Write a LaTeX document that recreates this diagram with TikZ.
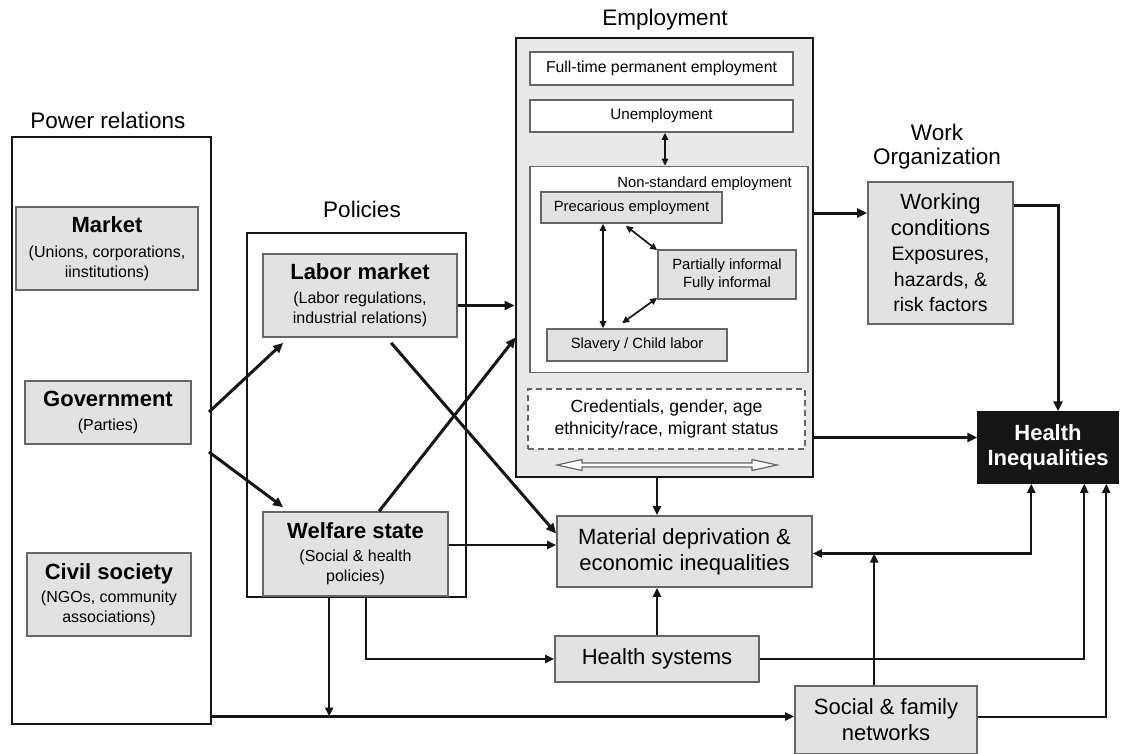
\documentclass[tikz,border=0pt]{standalone}
\usepackage{fontspec}
\setmainfont{Liberation Sans}
\usetikzlibrary{arrows.meta,calc}

\definecolor{boxfill}{HTML}{E2E2E2}
\definecolor{empfill}{HTML}{E8E8E8}
\definecolor{boxline}{HTML}{666666}
\definecolor{ink}{HTML}{151515}

\newcommand\ttlfont{\fontsize{22.5}{26}\selectfont}
\newcommand\hdrfont{\fontsize{22}{26}\selectfont\bfseries}
\newcommand\subfont{\fontsize{16}{20}\selectfont}
\newcommand\bigfont{\fontsize{22}{26}\selectfont}
\newcommand\midfont{\fontsize{17.6}{22.5}\selectfont}
\newcommand\smlfont{\fontsize{14.8}{18}\selectfont}

\begin{document}
\begin{tikzpicture}[x=1pt,y=-1pt,
  outerframe/.style={draw=ink, line width=2.8pt, inner sep=0pt},
  grybox/.style={draw=boxline, fill=boxfill, line width=1.7pt, inner sep=0pt, align=center},
  whtbox/.style={grybox, fill=white},
  ttl/.style={anchor=base, font=\ttlfont, inner sep=0pt},
  thk/.style={line width=3pt, draw=ink, -{Triangle[length=10pt,width=9pt]}},
  thn/.style={line width=2.1pt, draw=ink, -{Triangle[length=9pt,width=8pt]}},
  thnboth/.style={line width=2.1pt, draw=ink, {Triangle[length=9pt,width=8pt]}-{Triangle[length=9pt,width=8pt]}},
  dbl/.style={line width=1.7pt, draw=ink, {Triangle[length=7pt,width=6.5pt]}-{Triangle[length=7pt,width=6.5pt]}},
]
\useasboundingbox (0,0) rectangle (1123,753);

% ---------- column titles ----------
\node[ttl] (t-pow) at (108,128) {Power relations};
\node[ttl] (t-pol) at (362,217) {Policies};
\node[ttl] (t-emp) at (665,25) {Employment};
\node[ttl] (t-work) at (937,140) {Work};
\node[ttl] (t-org) at (937,164) {Organization};

% ---------- power relations ----------
\node[outerframe, minimum width=199pt, minimum height=587pt] (pr) at (111.5,430.5) {};
\node[grybox, minimum width=182pt, minimum height=83pt, font=\subfont] (mkt) at (107,248.5)
  {{\hdrfont Market}\\[5pt](Unions, corporations,\\iinstitutions)};
\node[grybox, minimum width=166pt, minimum height=63pt, font=\subfont] (gov) at (108,412.5)
  {{\hdrfont Government}\\[4pt](Parties)};
\node[grybox, minimum width=164pt, minimum height=83pt, font=\subfont] (civ) at (109,594.5)
  {{\hdrfont Civil society}\\[3pt](NGOs, community\\associations)};

% ---------- policies ----------
\node[outerframe, minimum width=219pt, minimum height=364pt] (pol) at (356.5,415) {};
\node[grybox, minimum width=194pt, minimum height=83pt, font=\subfont] (lab) at (360,295.5)
  {{\hdrfont Labor market}\\[4pt](Labor regulations,\\industrial relations)};
\node[grybox, minimum width=185pt, minimum height=84pt, font=\subfont] (wel) at (355.5,554)
  {{\hdrfont Welfare state}\\[3pt](Social \& health\\policies)};

% ---------- employment ----------
\node[outerframe, fill=empfill, minimum width=297pt, minimum height=439pt] (emp) at (664.5,257.5) {};
\node[whtbox, minimum width=263pt, minimum height=33pt, font=\fontsize{15.8}{19}\selectfont] (ft) at (661.5,68.5)
  {Full-time permanent employment};
\node[whtbox, minimum width=263pt, minimum height=32pt, font=\fontsize{15.2}{19}\selectfont] (un) at (661.5,116)
  {Unemployment};
\node[whtbox, minimum width=278pt, minimum height=206pt] (ns) at (669,269.5) {};
\node[anchor=base east, font=\smlfont, inner sep=0pt] (ns-lbl) at (792,187) {Non-standard employment};
\node[grybox, minimum width=181pt, minimum height=31pt, font=\smlfont] (pre) at (631.5,207.5)
  {Precarious employment};
\node[grybox, minimum width=138pt, minimum height=49pt, font=\smlfont] (inf) at (727,274.5)
  {Partially informal\\Fully informal};
\node[grybox, minimum width=180pt, minimum height=32pt, font=\smlfont] (sla) at (637,345)
  {Slavery / Child labor};
\node[whtbox, dash pattern=on 6pt off 4pt, minimum width=277pt, minimum height=60pt, font=\midfont] (cred) at (666.5,419)
  {Credentials, gender, age\\ethnicity/race, migrant status};
% hollow two-way arrow under the credentials box
\filldraw[fill=white, draw=boxline, line width=1.2pt]
  (557,465) -- (582,459.5) -- (582,463) -- (752,463) -- (752,459.5) -- (777,465)
  -- (752,470.5) -- (752,467) -- (582,467) -- (582,470.5) -- cycle;

% ---------- right-hand side ----------
\node[grybox, minimum width=145pt, minimum height=142pt, font=\fontsize{19.5}{25.5}\selectfont] (wc) at (940.5,253)
  {{\bigfont Working}\\{\bigfont conditions}\\Exposures,\\hazards, \&\\risk factors};
\node[draw=ink, fill=ink, line width=1.5pt, inner sep=0pt, align=center, text=white,
  minimum width=140pt, minimum height=71pt, font=\fontsize{22}{25}\selectfont\bfseries] (hi) at (1048,447.5)
  {Health\\Inequalities};
\node[grybox, minimum width=255pt, minimum height=71pt, font=\bigfont] (mat) at (684.5,551.5)
  {Material deprivation \&\\economic inequalities};
\node[grybox, minimum width=204pt, minimum height=46pt, font=\bigfont] (hs) at (657,659)
  {Health systems};
\node[grybox, minimum width=182pt, minimum height=68pt, font=\bigfont] (soc) at (886,720)
  {Social \& family\\networks};

% ---------- connectors: power relations -> policies ----------
\coordinate (g-up) at (209,412);
\coordinate (g-dn) at (209,452);
\draw[thk] (g-up) -- ($(lab.south west)+(21,5)$);
\draw[thk] (g-dn) -- ($(wel.north west)+(21,-4)$);

% policies -> employment / material deprivation
\draw[thk] ($(lab.east)+(0,10)$) coordinate (l-out) -- (l-out -| emp.west);
\draw[thk] ($(wel.north west)+(117,0)$) -- ($(emp.west)+(1,80)$);
\draw[thk] ($(lab.south west)+(129,5)$) -- ($(mat.west)+(0,-18)$);
\draw[thn] ($(wel.east)+(0,-9)$) coordinate (w-out) -- (w-out -| mat.west);

% employment and health systems -> material deprivation
\draw[thn] (emp.south -| hs.north) -- (mat.north -| hs.north);
\draw[thn] (hs.north) -- (mat.south -| hs.north);

% welfare state -> health systems, and down to the bottom line
\draw[thn] ($(wel.south west)+(104,0)$) |- (hs.west);
\coordinate (s-in) at ($(soc.west)+(0,-3.5)$);
\draw[thn] (s-in -| pr.east) -- (s-in);
\draw[thn] ($(wel.south west)+(67,0)$) coordinate (w-drop) -- (w-drop |- s-in);

% inner employment relations
\draw[dbl] ($(un.south)+(3.5,0)$) -- ($(ns.north)+(-4,0)$);
\draw[dbl] ($(pre.south)+(-28.5,0)$) coordinate (p-dn) -- (p-dn |- sla.north);
\draw[dbl] ($(pre.south east)+(-97,2)$) -- ($(inf.north west)+(0,1)$);
\draw[dbl] ($(sla.north west)+(76,-5)$) -- ($(inf.south west)+(0,-2)$);

% employment -> work organization -> health inequalities
\coordinate (wc-in) at ($(wc.west)+(0,-40)$);
\draw[thk] (wc-in -| emp.east) -- (wc-in);
\draw[thk] ($(wc.east)+(0,-48)$) -| ($(hi.north)+(10,0)$);
\coordinate (hi-in) at ($(hi.west)+(0,-10)$);
\draw[thk] (hi-in -| emp.east) -- (hi-in);

% feedback into health inequalities
\coordinate (m-in) at ($(mat.east)+(0,2)$);
\draw[thnboth] (m-in) -| ($(hi.south west)+(54,0)$);
\draw[thn] ($(soc.north west)+(80,0)$) coordinate (s-up) -- (s-up |- m-in);
\draw[thn] (hs.east) -| ($(hi.south west)+(107,0)$);
\draw[thn] ($(soc.east)+(0,-3)$) -| ($(hi.south west)+(129,0)$);
\end{tikzpicture}
\end{document}
